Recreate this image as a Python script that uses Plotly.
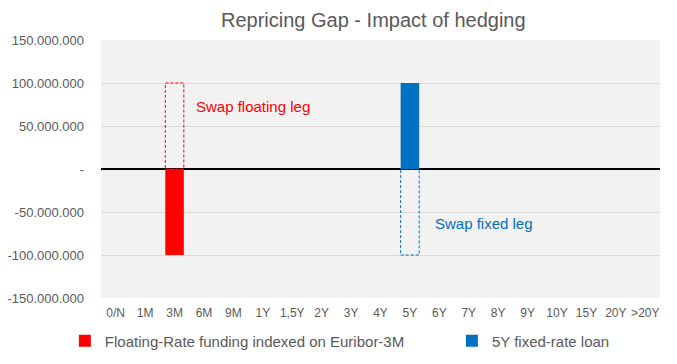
import plotly.graph_objects as go

categories = ["0/N", "1M", "3M", "6M", "9M", "1Y", "1,5Y", "2Y", "3Y", "4Y", "5Y",
              "6Y", "7Y", "8Y", "9Y", "10Y", "15Y", "20Y", ">20Y"]
floating_funding = [0, 0, -100_000_000, 0, 0, 0, 0, 0, 0, 0, 0, 0, 0, 0, 0, 0, 0, 0, 0]
fixed_loan = [0, 0, 0, 0, 0, 0, 0, 0, 0, 0, 100_000_000, 0, 0, 0, 0, 0, 0, 0, 0]
swap_floating_leg = [0, 0, 100_000_000, 0, 0, 0, 0, 0, 0, 0, 0, 0, 0, 0, 0, 0, 0, 0, 0]
swap_fixed_leg = [0, 0, 0, 0, 0, 0, 0, 0, 0, 0, -100_000_000, 0, 0, 0, 0, 0, 0, 0, 0]
y_ticks = [-150_000_000, -100_000_000, -50_000_000, 0, 50_000_000, 100_000_000, 150_000_000]


def fmt(v):
    if v == 0:
        return "-"
    return f"{v:,}".replace(",", ".")


y_ticktext = [fmt(v) for v in y_ticks]

RED = "#FF0000"
BLUE = "#0070C0"
FONT = "Liberation Sans, Arial, sans-serif"
GREY = "#595959"
BAR_W = 0.63

fig = go.Figure()
fig.add_trace(go.Bar(x=categories, y=floating_funding, name="Floating-Rate funding indexed on Euribor-3M",
                     marker=dict(color=RED, line=dict(width=0)), width=BAR_W, legend="legend"))
fig.add_trace(go.Bar(x=categories, y=fixed_loan, name="5Y fixed-rate loan",
                     marker=dict(color=BLUE, line=dict(width=0)), width=BAR_W, legend="legend2"))

# dashed outlines for the swap legs
for vals, col in [(swap_floating_leg, RED), (swap_fixed_leg, BLUE)]:
    for i, v in enumerate(vals):
        if v != 0:
            fig.add_shape(type="rect", xref="x", yref="y",
                          x0=i - BAR_W / 2, x1=i + BAR_W / 2, y0=0, y1=v,
                          line=dict(color=col, width=1, dash="3px,2px"),
                          fillcolor="rgba(0,0,0,0)", layer="above")

fig.add_annotation(x="3M", y=73_000_000, xref="x", yref="y", text="Swap floating leg",
                   showarrow=False, xanchor="left", xshift=19,
                   font=dict(family=FONT, size=15, color=RED))
fig.add_annotation(x="5Y", y=-63_000_000, xref="x", yref="y", text="Swap fixed leg",
                   showarrow=False, xanchor="left", xshift=23,
                   font=dict(family=FONT, size=15, color=BLUE))

legend_common = dict(orientation="h", xref="container", yref="container", xanchor="left",
                     y=1 - 333 / 356, yanchor="middle",
                     font=dict(family=FONT, size=15, color=GREY),
                     bgcolor="rgba(0,0,0,0)", itemwidth=30)

# the page body has an 8px margin, so the figure is drawn 8px smaller and offset
fig.update_layout(
    width=669, height=356,
    margin=dict(l=93, r=17, t=32, b=66, autoexpand=False),
    paper_bgcolor="white",
    plot_bgcolor="#F2F2F2",
    font=dict(family=FONT, size=13, color=GREY),
    title=dict(text="Repricing Gap - Impact of hedging", x=0.546, xanchor="center",
               y=1 - 12 / 356, yanchor="middle", xref="container", yref="container",
               font=dict(family=FONT, size=20, color=GREY)),
    barmode="overlay",
    showlegend=True,
    legend=dict(x=0.085, **legend_common),
    legend2=dict(x=0.6635, **legend_common),
    xaxis=dict(type="category", showgrid=False, ticks="", showline=False, tickangle=0,
               ticklabelstandoff=6,
               tickfont=dict(family=FONT, size=12, color=GREY)),
    yaxis=dict(range=[-150_000_000, 150_000_000], tickvals=y_ticks, ticktext=y_ticktext,
               showgrid=True, gridcolor="#D9D9D9", gridwidth=1,
               zeroline=True, zerolinecolor="#000000", zerolinewidth=1.5,
               ticks="", showline=False, ticklabelstandoff=16,
               tickfont=dict(family=FONT, size=13, color=GREY)),
)

fig.write_html("out.html")
